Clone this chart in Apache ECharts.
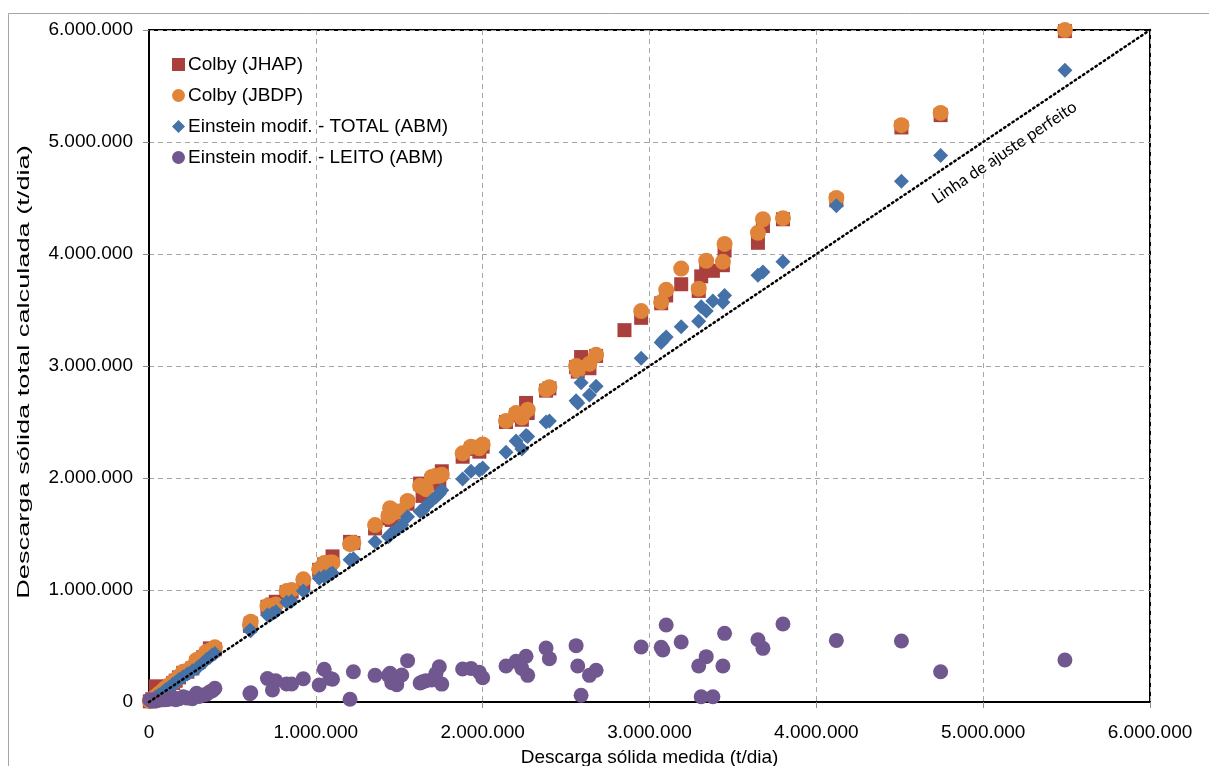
<!DOCTYPE html>
<html>
<head>
<meta charset="utf-8">
<script src="https://cdn.jsdelivr.net/npm/echarts@6/dist/echarts.min.js"></script>
<style>
  html, body { margin: 0; padding: 0; background: #fff; }
  #chart { width: 1209px; height: 766px; }
</style>
</head>
<body>
<div id="chart"></div>
<script>
// Measured sediment discharge (t/dia) and the values computed by each method
const measured = [5490000, 4745000, 4510000, 4120000, 3800000, 3680000, 3650000, 3450000, 3440000, 3380000,
  3340000, 3310000, 3295000, 3190000, 3100000, 3070000, 3080000, 2950000, 2850000, 2680000,
  2640000, 2590000, 2570000, 2560000, 2400000, 2380000, 2260000, 2270000, 2235000, 2200000,
  2140000, 2000000, 1980000, 1930000, 1880000, 1755000, 1740000, 1720000, 1695000, 1660000,
  1640000, 1625000, 1550000, 1515000, 1485000, 1455000, 1445000, 1435000, 1355000, 1225000,
  1205000, 1100000, 1085000, 1050000, 1020000, 925000, 855000, 825000, 760000, 740000,
  710000, 610000, 605000, 395000, 380000, 365000, 345000, 325000, 300000, 285000,
  260000, 230000, 205000, 180000, 160000, 145000, 120000, 100000, 85000, 60000,
  40000, 20000, 5000];

const colbyJHAP = [5990000, 5240000, 5130000, 4480000, 4310000, 4250000, 4100000, 4030000, 3900000, 3850000,
  3860000, 3800000, 3670000, 3730000, 3630000, 3560000, null, 3430000, 3320000, 3090000,
  2980000, 3080000, 2950000, 2990000, 2800000, 2780000, 2670000, 2580000, 2520000, 2560000,
  2500000, 2280000, 2235000, 2260000, 2190000, 2060000, 1950000, 2000000, 1980000, 1890000,
  1840000, 1950000, 1770000, 1690000, 1690000, 1625000, 1700000, 1640000, 1550000, 1420000,
  1430000, 1300000, 1240000, 1230000, 1180000, 1060000, 985000, 980000, 895000, 870000,
  850000, 700000, 680000, 470000, 460000, 479000, 430000, 400000, 360000, 350000,
  300000, 270000, 260000, 220000, 190000, 170000, 140000, 120000, 100000, 70000,
  140000, 25000, 6000];

const colbyJBDP = [6000000, 5260000, 5150000, 4500000, 4320000, 4310000, 4190000, 4090000, 3930000, null,
  3940000, null, 3690000, 3870000, 3680000, 3570000, null, 3490000, null, 3100000,
  3020000, null, 2960000, 3000000, 2810000, 2790000, null, 2610000, 2540000, 2580000,
  2510000, 2300000, 2265000, 2280000, 2220000, 2030000, 2020000, 2020000, 2010000, 1900000,
  1920000, 1930000, 1795000, 1705000, 1700000, 1680000, 1730000, 1655000, 1580000, 1420000,
  1410000, 1245000, 1245000, 1240000, 1185000, 1095000, 1000000, 990000, 870000, 860000,
  857000, 717000, 687000, 488000, 470000, 460000, 449000, 410000, 380000, 375000,
  310000, 280000, 270000, 225000, 200000, 180000, 150000, 125000, 105000, 75000,
  50000, 28000, 7000];

const einsteinTotal = [5640000, 4880000, 4650000, 4430000, 3930000, 3840000, 3810000, 3630000, 3570000, 3580000,
  3490000, 3530000, 3400000, 3350000, 3260000, 3210000, 3230000, 3070000, null, 2820000,
  2740000, 2850000, 2670000, 2690000, 2510000, 2500000, 2380000, 2370000, 2260000, 2330000,
  2230000, 2090000, 2070000, 2060000, 1990000, 1890000, 1860000, 1830000, 1800000, 1750000,
  1710000, 1700000, 1655000, 1580000, 1540000, 1510000, 1490000, 1475000, 1430000, 1280000,
  1270000, 1150000, 1140000, 1120000, 1105000, 990000, 900000, 890000, 806000, 790000,
  777000, 637000, 640000, 434000, 420000, 400000, 380000, 350000, 320000, 300000,
  280000, 250000, 226000, 200000, 175000, 160000, 130000, 110000, 90000, 65000,
  45000, 22000, 6000];

const einsteinLeito = [375000, 270000, 545000, 550000, 696000, 479000, 556000, 613000, 321000, 47000,
  405000, 47000, 321000, 536000, 688000, 488000, 464000, 491000, null, 283000,
  238000, 60000, 321000, 503000, 387000, 482000, 408000, 238000, 300000, 363000,
  321000, 217000, 265000, 300000, 295000, 160000, 315000, 255000, 196000, 190000,
  180000, 170000, 369000, 241000, 155000, 172000, 256000, 238000, 238000, 270000,
  24000, 203000, 210000, 292000, 152000, 208000, 161000, 161000, 190000, 107000,
  210000, 83000, 75000, 122000, 100000, 92000, 70000, 62000, 50000, 78000,
  30000, 35000, 47000, 30000, 20000, 40000, 25000, 20000, 20000, 15000,
  10000, 10000, 20000];

// Axis range and tick step (t/dia)
const axisMin = 0;
const axisMax = 6000000;
const axisStep = 1000000;

const seriesNames = ['Colby (JHAP)', 'Colby (JBDP)', 'Einstein modif. - TOTAL (ABM)', 'Einstein modif. - LEITO (ABM)'];
const xTitle = 'Descarga sólida medida (t/dia)';
const yTitle = 'Descarga sólida total calculada (t/dia)';
const fitLabel = 'Linha de ajuste perfeito';

function pairs(values) {
  const out = [];
  measured.forEach((x, i) => { if (values[i] != null) out.push([x, values[i]]); });
  return out;
}

function thousands(v) {
  return String(Math.round(v)).replace(/\B(?=(\d{3})+(?!\d))/g, '.');
}

const FONT = '"Liberation Sans", Arial, sans-serif';

const chart = echarts.init(document.getElementById('chart'), null, { renderer: 'canvas' });

const axisCommon = {
  type: 'value',
  min: axisMin,
  max: axisMax,
  interval: axisStep,
  axisLine: { show: true, onZero: false, lineStyle: { color: '#000', width: 2 } },
  axisTick: { show: true, length: 6, lineStyle: { color: '#8c8c8c', width: 1 } },
  axisLabel: { color: '#000', fontSize: 19, fontFamily: FONT, formatter: thousands },
  splitLine: { show: true, lineStyle: { color: '#a6a6a6', width: 1, type: [5, 4] } },
  nameLocation: 'middle',
  nameTextStyle: { color: '#000', fontSize: 19, fontFamily: FONT }
};

chart.setOption({
  backgroundColor: '#fff',
  animation: false,
  graphic: [
    {
      // outer chart frame
      type: 'rect',
      left: 6, top: 11,
      shape: { width: 1240, height: 800 },
      style: { fill: 'none', stroke: '#a6a6a6', lineWidth: 1 },
      silent: true
    },
    {
      // vertical axis title, stretched along its length
      type: 'text',
      x: 25, y: 372,
      rotation: Math.PI / 2,
      scaleX: 1.7,
      style: {
        text: yTitle,
        fill: '#000',
        font: '16px ' + FONT,
        textAlign: 'center',
        textVerticalAlign: 'middle'
      },
      silent: true
    }
  ],
  grid: {
    left: 149, right: 59, top: 30, bottom: 64,
    containLabel: false,
    outerBoundsMode: 'none',
    show: true, borderColor: '#000', borderWidth: 2, backgroundColor: 'transparent'
  },
  legend: {
    orient: 'vertical',
    left: 167, top: 50,
    itemGap: 12,
    itemWidth: 13, itemHeight: 13,
    textStyle: { color: '#000', fontSize: 19, fontFamily: FONT, padding: [0, 0, 0, -2] },
    data: [
      { name: seriesNames[0], icon: 'rect' },
      { name: seriesNames[1], icon: 'circle' },
      { name: seriesNames[2], icon: 'diamond' },
      { name: seriesNames[3], icon: 'circle' }
    ]
  },
  xAxis: Object.assign({}, axisCommon, {
    name: xTitle,
    nameGap: 46,
    axisLabel: Object.assign({}, axisCommon.axisLabel, { margin: 21 })
  }),
  yAxis: Object.assign({}, axisCommon, {
    axisLabel: Object.assign({}, axisCommon.axisLabel, { margin: 16 })
  }),
  series: [
    {
      name: 'fit',
      type: 'line',
      data: [],
      silent: true,
      markLine: {
        silent: true,
        symbol: ['none', 'none'],
        lineStyle: { color: '#000', width: 2.5, type: [1.5, 3.5], cap: 'round' },
        label: {
          show: true,
          formatter: fitLabel,
          position: 'insideEndBottom',
          distance: [104, 12],
          color: '#000',
          fontSize: 16.5,
          fontFamily: 'Lato, "Open Sans", sans-serif'
        },
        data: [[{ coord: [axisMin, axisMin] }, { coord: [axisMax, axisMax] }]]
      }
    },
    {
      name: seriesNames[0], type: 'scatter', symbol: 'rect', symbolSize: 14,
      itemStyle: { color: '#A9403D', opacity: 1 }, data: pairs(colbyJHAP)
    },
    {
      name: seriesNames[1], type: 'scatter', symbol: 'circle', symbolSize: 16,
      itemStyle: { color: '#E0843A', opacity: 1 }, data: pairs(colbyJBDP)
    },
    {
      name: seriesNames[2], type: 'scatter', symbol: 'diamond', symbolSize: 15,
      itemStyle: { color: '#4472A8', opacity: 1 }, data: pairs(einsteinTotal)
    },
    {
      name: seriesNames[3], type: 'scatter', symbol: 'circle', symbolSize: 15,
      itemStyle: { color: '#71578F', opacity: 1 }, data: pairs(einsteinLeito)
    }
  ]
});
</script>
</body>
</html>
